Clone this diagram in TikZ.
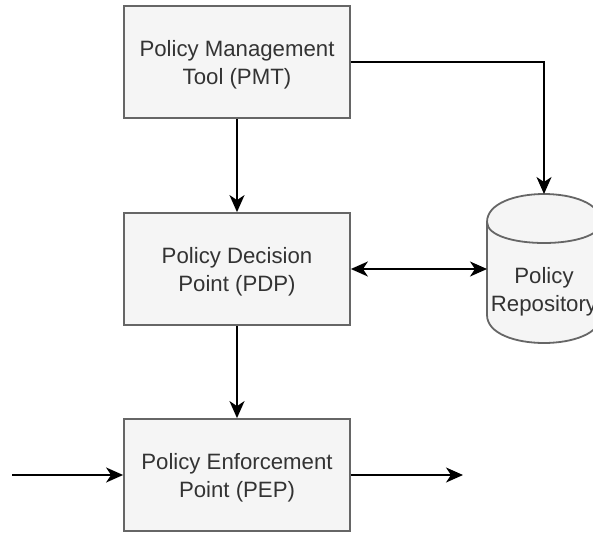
\documentclass[tikz,border=0pt]{standalone}
\usepackage{fontspec}
\setmainfont{Liberation Sans}
\usetikzlibrary{arrows.meta}
\definecolor{boxfill}{HTML}{F5F5F5}
\definecolor{boxline}{HTML}{666666}
\definecolor{boxtext}{HTML}{333333}
\begin{document}
\begin{tikzpicture}[x=1pt,y=-1pt,
  block/.style={draw=boxline, fill=boxfill, line width=1.8pt, minimum width=226pt, minimum height=112pt, inner sep=0pt},
  lbl/.style={text=boxtext, align=center, font=\fontsize{22.2}{27.8}\selectfont, inner sep=0pt},
  tip/.style={Stealth[length=17pt,width=15pt,inset=5pt]},
  arr/.style={draw=black, line width=1.8pt, -{Stealth[length=17pt,width=15pt,inset=5pt]}},
  darr/.style={draw=black, line width=1.8pt, {Stealth[length=17pt,width=15pt,inset=5pt]}-{Stealth[length=17pt,width=15pt,inset=5pt]}}
]
\useasboundingbox (0,0) rectangle (593,532);
\fill[white] (0,0) rectangle (593,532);

\node[block] (pmt) at (237,62) {};
\node[lbl, yshift=-3pt] (pmttext) at (pmt.center) {Policy Management\\Tool (PMT)};
\node[block] (pdp) at (237,269) {};
\node[lbl, yshift=-3pt] (pdptext) at (pdp.center) {Policy Decision\\Point (PDP)};
\node[block] (pep) at (237,475) {};
\node[lbl, yshift=-3pt] (peptext) at (pep.center) {Policy Enforcement\\Point (PEP)};

% cylinder
\draw[draw=boxline, fill=boxfill, line width=1.8pt]
  (487,222) .. controls (487,184.67) and (601,184.67) .. (601,222)
  -- (601,315) .. controls (601,352.33) and (487,352.33) .. (487,315) -- cycle;
\draw[draw=boxline, line width=1.8pt]
  (487,222) .. controls (487,250) and (601,250) .. (601,222);
\node[lbl] (repo) at (544,292) {Policy\\Repository};
\coordinate (repotop) at (544,194);
\coordinate (repoleft) at (487,269);

\coordinate (in) at (12,475);
\coordinate (out) at (463,475);

\draw[arr] (pmt.east) -| (repotop);
\draw[arr] (pmt.south) -- (pdp.north);
\draw[arr] (pdp.south) -- (pep.north);
\draw[darr] (pdp.east) -- (repoleft);
\draw[arr] (in) -- (pep.west);
\draw[arr] (pep.east) -- (out);
\end{tikzpicture}
\end{document}
